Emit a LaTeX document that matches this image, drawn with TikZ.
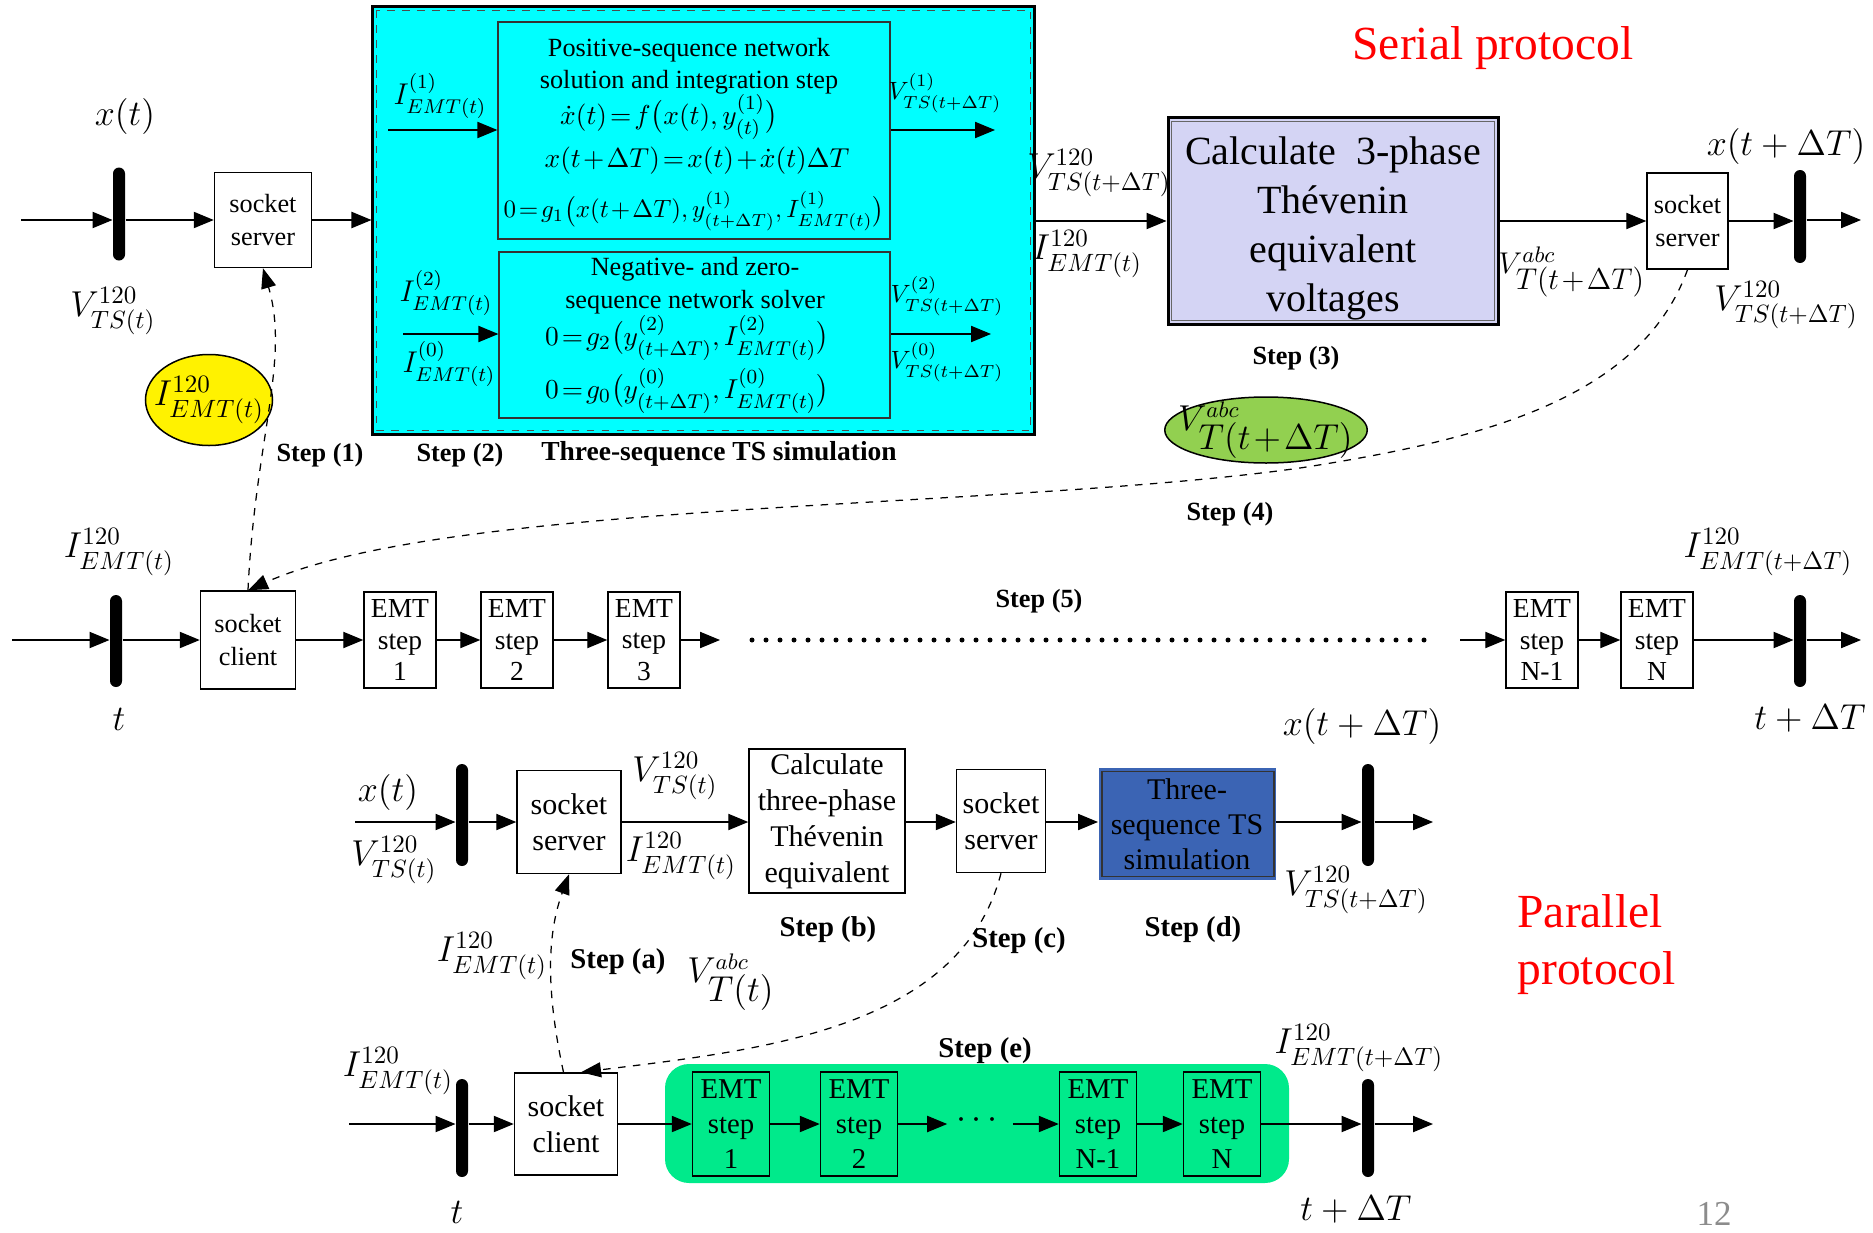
\documentclass[tikz,border=0pt]{standalone}
\usepackage{amsmath,amssymb}
\usepackage{fontspec}
\setmainfont{Liberation Serif}
\usetikzlibrary{arrows.meta, shapes.geometric, positioning, calc}
\definecolor{tscyan}{HTML}{00FFFF}
\definecolor{thevlav}{HTML}{D4D4F4}
\definecolor{tsblue}{HTML}{3B64B4}
\definecolor{emtgreen}{HTML}{00EA8B}
\definecolor{ellgreen}{HTML}{92D050}
\newcommand{\tightmath}{\thickmuskip=2mu\relax\medmuskip=1.5mu\relax}
\tikzset{
  blk/.style={
    rectangle, draw=black, line width=0.6pt, align=center, inner sep=0pt,
    font=\fontsize{10.5}{13.4}\selectfont
  },
  sockbox/.style={blk},
  sockbig/.style={blk, font=\fontsize{12}{14.4}\selectfont},
  emtbox/.style={blk, minimum width=28.8pt, minimum height=38.4pt, font=\fontsize{11}{12.7}\selectfont},
  emtbig/.style={blk, fill=emtgreen, minimum width=30.8pt, minimum height=41.6pt, font=\fontsize{11.5}{13.9}\selectfont},
  seqbox/.style={rectangle, draw=black!80, line width=0.5pt, fill=tscyan, inner sep=0pt},
  bus/.style={rectangle, fill=black, rounded corners=2.4pt, minimum width=4.8pt, minimum height=37.2pt, inner sep=0pt},
  flow/.style={-{Triangle[length=8pt,width=6.5pt]}, line width=0.5pt},
  dashlink/.style={dashed, line width=0.5pt, -{Triangle[length=8pt,width=6pt]}},
  dotrow/.style={line width=2pt, line cap=round, dash pattern=on 0pt off 5.6pt},
  steplbl/.style={font=\fontsize{10.5}{12}\selectfont\bfseries, inner sep=0pt},
  stepbig/.style={font=\fontsize{11.5}{13}\selectfont\bfseries, inner sep=0pt},
  biglbl/.style={font=\fontsize{14}{16}\selectfont, inner sep=0pt},
  abclbl/.style={font=\fontsize{13.5}{15}\selectfont\tightmath, inner sep=0pt},
  seqlbl/.style={font=\fontsize{11.5}{13}\selectfont, inner sep=0pt},
  eqn/.style={font=\fontsize{11}{13}\selectfont\tightmath, inner sep=0pt},
  seqtxt/.style={font=\fontsize{10.5}{12.5}\selectfont, inner sep=0pt, text height=7.5pt, text depth=2pt},
  protolbl/.style={text=red, font=\fontsize{19}{22.8}\selectfont, align=left, inner sep=0pt}
}

\begin{document}
\begin{tikzpicture}[x=0.4pt, y=-0.4pt]
\useasboundingbox (0,0) rectangle (1873,1233);

% ---------- serial protocol ----------
\node[protolbl] (serial) at (1493,48) {Serial protocol};

\node[bus] (bus1) at (119,214) {};
\node[sockbox, minimum width=38.8pt, minimum height=38pt] (srv1) at (263,220) {socket\\server};
\node[rectangle, draw=black, line width=1.2pt, fill=tscyan, minimum width=264.4pt, minimum height=170.8pt] (cyan) at (703.5,220.5) {};
\draw[dashed, line width=0.4pt, black!70] ($(cyan.north west)+(5,5)$) rectangle ($(cyan.south east)+(-5,-5)$);
\node[seqbox, minimum width=156.8pt, minimum height=86.8pt] (pos) at (694,130.5) {};
\node[seqbox, minimum width=156.4pt, minimum height=66.4pt] (neg) at (694.5,335) {};

\node[seqtxt] (pos1) at (689,50) {Positive-sequence network};
\node[seqtxt] (pos2) at (689,82) {solution and integration step};
\node[eqn] (pos3) at (669,117) {$\dot{x}(t)=f\big(x(t),y^{(1)}_{(t)}\big)$};
\node[eqn] (pos4) at (697,161) {$x(t+\Delta T)=x(t)+\dot{x}(t)\Delta T$};
\node[eqn, font=\fontsize{10.2}{12}\selectfont\tightmath] (pos5) at (694,211)
  {$0=g_1\big(x(t+\Delta T),y^{(1)}_{(t+\Delta T)},I^{(1)}_{EMT(t)}\big)$};
\node[seqtxt] (neg1) at (695,269) {Negative- and zero-};
\node[seqtxt] (neg2) at (695,302) {sequence network solver};
\node[eqn] (neg3) at (687,338) {$0=g_2\big(y^{(2)}_{(t+\Delta T)},I^{(2)}_{EMT(t)}\big)$};
\node[eqn] (neg4) at (687,391) {$0=g_0\big(y^{(0)}_{(t+\Delta T)},I^{(0)}_{EMT(t)}\big)$};

\node[seqlbl] (i1) at (440,96) {$I^{(1)}_{EMT(t)}$};
\node[seqlbl] (i2) at (446,293) {$I^{(2)}_{EMT(t)}$};
\node[seqlbl] (i0) at (449,364) {$I^{(0)}_{EMT(t)}$};
\node[eqn, font=\fontsize{10}{12}\selectfont] (v1) at (945,93) {$V^{(1)}_{TS(t+\Delta T)}$};
\node[eqn, font=\fontsize{10}{12}\selectfont] (v2) at (947,296) {$V^{(2)}_{TS(t+\Delta T)}$};
\node[eqn, font=\fontsize{10}{12}\selectfont] (v0) at (947,362) {$V^{(0)}_{TS(t+\Delta T)}$};

\node[rectangle, draw=black, line width=1.2pt, fill=thevlav, minimum width=132pt, minimum height=82.4pt,
  label={[align=center, font=\fontsize{16}{19.6}\selectfont, yshift=-3pt]center:{Calculate\ \ 3-phase\\Th\'evenin\\equivalent\\voltages}}]
  (calc1) at (1333,221) {};
\draw[line width=0.5pt, black!60] ($(calc1.north west)+(5,5)$) rectangle ($(calc1.south east)+(-5,-5)$);
\node[sockbox, minimum width=32.4pt, minimum height=38.4pt] (srv2) at (1687.5,221) {socket\\server};
\node[bus] (bus2) at (1800,216.5) {};

\node[biglbl] (xt1) at (125,116) {$x(t)$};
\node[biglbl] (vts1) at (113,311) {$V^{120}_{TS(t)}$};
\node[biglbl] (vts2) at (1099,173) {$V^{120}_{TS(t+\Delta T)}$};
\node[biglbl] (iemt1) at (1087,254) {$I^{120}_{EMT(t)}$};
\node[abclbl, font=\fontsize{12.5}{14}\selectfont\tightmath] (vabc1) at (1572,272) {$V^{abc}_{\textstyle T(t+\Delta T)}$};
\node[biglbl] (xtd1) at (1786,146) {$x(t+\Delta T)$};
\node[biglbl] (vtsd1) at (1786,305) {$V^{120}_{TS(t+\Delta T)}$};

\node[ellipse, draw=black, line width=0.6pt, fill=yellow, minimum width=50.8pt, minimum height=36.4pt, inner sep=0pt,
  label={[font=\fontsize{14}{16}\selectfont]center:$I^{120}_{EMT(t)}$}] (yel) at (209,400) {};
\node[ellipse, draw=black, line width=0.6pt, fill=ellgreen, minimum width=81pt, minimum height=26.4pt, inner sep=0pt,
  label={[abclbl]center:$V^{abc}_{\textstyle T(t+\Delta T)}$}] (grn) at (1266,430) {};

\node[steplbl] (st1) at (320,455) {Step (1)};
\node[steplbl] (st2) at (460,455) {Step (2)};
\node[steplbl, font=\fontsize{11}{13}\selectfont\bfseries] (st2b) at (719,454) {Three-sequence TS simulation};
\node[steplbl] (st3) at (1296,358) {Step (3)};
\node[steplbl] (st4) at (1230,514) {Step (4)};
\node[steplbl] (st5) at (1039,601) {Step (5)};

\coordinate (a0) at (21,220);
\coordinate (a1) at (1861,220);
\coordinate (ip1) at (388,130);
\coordinate (op1) at (995,130);
\coordinate (ip2) at (403,334);
\coordinate (op2) at (991,334);
\draw[flow] (a0) -- (a0 -| bus1.west);
\draw[flow] (bus1.east |- a0) -- (srv1.west);
\draw[flow] (srv1.east) -- (srv1.east -| cyan.west);
\draw[flow] (ip1) -- (ip1 -| pos.west);
\draw[flow] (pos.east |- op1) -- (op1);
\draw[flow] (ip2) -- (ip2 -| neg.west);
\draw[flow] (neg.east |- op2) -- (op2);
\draw[flow] (calc1.west -| cyan.east) -- (calc1.west);
\draw[flow] (calc1) -- (srv2);
\draw[flow] (srv2.east) -- (srv2.east -| bus2.west);
\draw[flow] (bus2.east |- a1) -- (a1);

% ---------- EMT row ----------
\node[bus, minimum height=36.8pt] (bus3) at (116,641) {};
\node[sockbox, minimum width=38pt, minimum height=39.2pt] (client1) at (248,640) {socket\\client};
\node[emtbox] (emt1) at (400,640) {EMT\\step\\1};
\node[emtbox] (emt2) at (517,640) {EMT\\step\\2};
\node[emtbox] (emt3) at (644,640) {EMT\\step\\3};
\node[emtbox] (emtN1) at (1542,640) {EMT\\step\\N-1};
\node[emtbox] (emtN) at (1657,640) {EMT\\step\\N};
\node[bus, minimum height=36.8pt] (bus4) at (1800,641) {};

\node[biglbl] (iemt3) at (119,552) {$I^{120}_{EMT(t)}$};
\node[biglbl] (t1) at (119,719) {$t$};
\node[biglbl] (iemtd1) at (1768,552) {$I^{120}_{EMT(t+\Delta T)}$};
\node[biglbl] (tdt1) at (1810,719) {$t+\Delta T$};

\coordinate (m0) at (12,640);
\coordinate (m1) at (1861,640);
\coordinate (dL) at (720,640);
\coordinate (d1) at (752,640);
\coordinate (d2) at (1430,640);
\coordinate (dR) at (1460,640);
\draw[flow] (m0) -- (m0 -| bus3.west);
\draw[flow] (bus3.east |- m0) -- (client1.west);
\draw[flow] (client1) -- (emt1);
\draw[flow] (emt1) -- (emt2);
\draw[flow] (emt2) -- (emt3);
\draw[flow] (emt3) -- (dL);
\draw[dotrow] (d1) -- (d2);
\draw[flow] (dR) -- (emtN1);
\draw[flow] (emtN1) -- (emtN);
\draw[flow] (emtN.east) -- (emtN.east -| bus4.west);
\draw[flow] (bus4.east |- m1) -- (m1);

\draw[dashlink] (srv2.south) .. controls (1640,400) and (1480,440) .. (1300,468)
  .. controls (1000,510) and (450,500) .. (client1.north);
\draw[dashlink] (client1.north) .. controls (255,440) and (290,360) .. (srv1.south);

% ---------- parallel protocol ----------
\node[protolbl, anchor=west] (para) at (1517,945) {Parallel\\protocol};

\node[bus, minimum height=40.8pt] (bus5) at (462,815) {};
\node[sockbig, minimum width=41.6pt, minimum height=41.2pt] (srv3) at (569,822) {socket\\server};
\node[blk, minimum width=62.4pt, minimum height=57.6pt, font=\fontsize{12}{14.4}\selectfont] (calc2) at (827,821)
  {Calculate\\three-phase\\Th\'evenin\\equivalent};
\node[sockbig, minimum width=35.6pt, minimum height=41.2pt] (srv4) at (1001,821) {socket\\server};
\node[rectangle, fill=tsblue, minimum width=70.8pt, minimum height=44.8pt, align=center, inner sep=0pt,
  font=\fontsize{12}{14}\selectfont] (tsim) at (1187,824) {Three-\\sequence TS\\simulation};
\draw[line width=0.5pt, black!80] ($(tsim.north west)+(4,4)$) rectangle ($(tsim.south east)+(-2,-4)$);
\node[bus, minimum height=40.8pt] (bus6) at (1368,815) {};

\node[biglbl] (xt2) at (388,792) {$x(t)$};
\node[biglbl] (vts3) at (394,860) {$V^{120}_{TS(t)}$};
\node[biglbl] (vts4) at (675,776) {$V^{120}_{TS(t)}$};
\node[biglbl] (iemt4) at (681,856) {$I^{120}_{EMT(t)}$};
\node[biglbl] (xtd2) at (1362,726) {$x(t+\Delta T)$};
\node[biglbl] (vtsd2) at (1356,890) {$V^{120}_{TS(t+\Delta T)}$};
\node[biglbl] (iemt5) at (492,956) {$I^{120}_{EMT(t)}$};
\node[abclbl] (vabc2) at (731,982) {$V^{abc}_{\textstyle T(t)}$};

\node[stepbig] (sta) at (618,962) {Step (a)};
\node[stepbig] (stb) at (828,930) {Step (b)};
\node[stepbig] (stc) at (1019,941) {Step (c)};
\node[stepbig] (std) at (1193,930) {Step (d)};
\node[stepbig] (ste) at (985,1051) {Step (e)};

\coordinate (p0) at (355,822);
\coordinate (p1) at (1433,822);
\draw[flow] (p0) -- (p0 -| bus5.west);
\draw[flow] (bus5.east |- p0) -- (srv3.west);
\draw[flow] (srv3.east) -- (srv3.east -| calc2.west);
\draw[flow] (calc2.east |- p0) -- (srv4.west |- p0);
\draw[flow] (srv4.east |- p0) -- (tsim.west |- p0);
\draw[flow] (tsim.east |- p0) -- (bus6.west |- p0);
\draw[flow] (bus6.east |- p1) -- (p1);

% ---------- parallel EMT row ----------
\node[rectangle, fill=emtgreen, rounded corners=9.6pt, minimum width=249.6pt, minimum height=47.6pt] (emtgrp) at (977,1123.5) {};
\node[bus, minimum height=39.2pt] (bus7) at (462,1128) {};
\node[sockbig, minimum width=41.2pt, minimum height=40.8pt] (client2) at (566,1124) {socket\\client};
\node[emtbig] (e1) at (731,1124) {EMT\\step\\1};
\node[emtbig] (e2) at (859,1124) {EMT\\step\\2};
\node[font=\fontsize{14}{16}\selectfont] (bdots) at (980,1120) {$\cdots$};
\node[emtbig] (eN1) at (1098,1124) {EMT\\step\\N-1};
\node[emtbig] (eN) at (1222,1124) {EMT\\step\\N};
\node[bus, minimum height=39.2pt] (bus8) at (1368,1128) {};

\node[biglbl] (iemt6) at (398,1071) {$I^{120}_{EMT(t)}$};
\node[biglbl] (t2) at (457,1212) {$t$};
\node[biglbl] (iemtd2) at (1359,1048) {$I^{120}_{EMT(t+\Delta T)}$};
\node[biglbl] (tdt2) at (1356,1210) {$t+\Delta T$};
\node[text=black!45, font=\fontsize{14}{16}\selectfont, inner sep=0pt] (pgnum) at (1714,1214) {12};

\coordinate (b0) at (349,1124);
\coordinate (b1) at (1433,1124);
\draw[flow] (b0) -- (b0 -| bus7.west);
\draw[flow] (bus7.east |- b0) -- (client2.west);
\draw[flow] (client2) -- (e1);
\draw[flow] (e1) -- (e2);
\draw[flow] (e2.east) -- (bdots.west |- e2.east);
\draw[flow] (bdots.east |- eN1.west) -- (eN1.west);
\draw[flow] (eN1) -- (eN);
\draw[flow] (eN.east) -- (eN.east -| bus8.west);
\draw[flow] (bus8.east |- b1) -- (b1);

\draw[dashlink] (srv4.south) .. controls (960,1030) and (760,1050) .. ([xshift=6pt]client2.north);
\draw[dashlink] ([xshift=-1pt]client2.north) .. controls (548,1000) and (545,940) .. (srv3.south);
\end{tikzpicture}
\end{document}
